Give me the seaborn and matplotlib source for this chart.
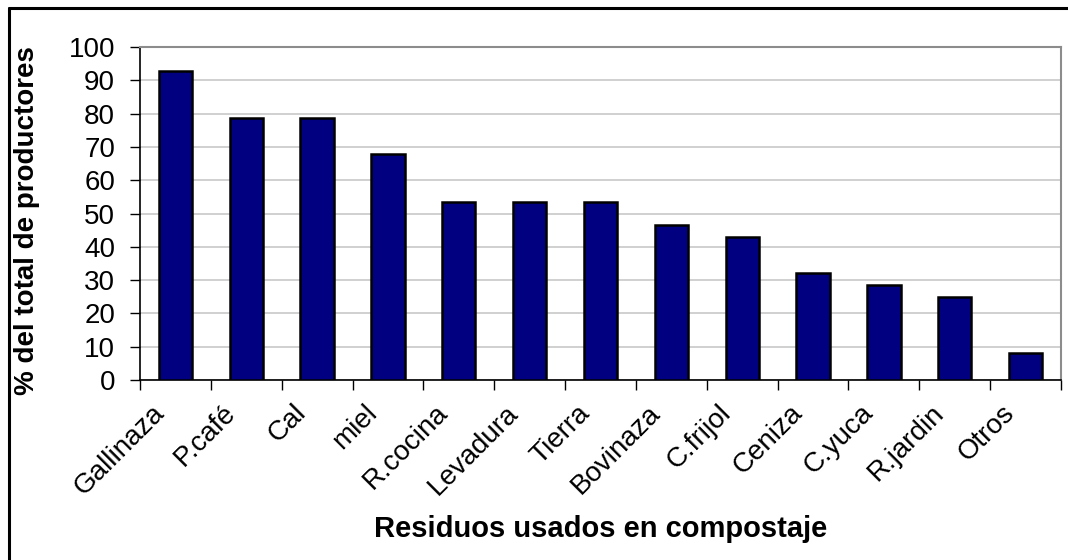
import matplotlib
matplotlib.use("Agg")
import matplotlib.pyplot as plt
import matplotlib.transforms as mtransforms
from matplotlib.lines import Line2D
import seaborn as sns
import pandas as pd
import numpy as np

# Residue types and share of producers using each (%)
residuos = ["Gallinaza", "P.café", "Cal", "miel", "R.cocina", "Levadura", "Tierra",
            "Bovinaza", "C.frijol", "Ceniza", "C.yuca", "R.jardin", "Otros"]
porcentaje = [92.9, 78.6, 78.6, 67.9, 53.6, 53.6, 53.6, 46.4, 42.9, 32.1, 28.6, 25.0, 8.0]
y_ticks = [0, 10, 20, 30, 40, 50, 60, 70, 80, 90, 100]

sns.set_theme(style="white")
plt.rcParams["font.family"] = ["Liberation Sans", "DejaVu Sans"]
plt.rcParams.update({"text.color": "black", "axes.labelcolor": "black",
                     "xtick.color": "black", "ytick.color": "black"})

df = pd.DataFrame({"residuo": residuos, "pct": porcentaje})

fig = plt.figure(figsize=(10.68, 5.60), dpi=100)
ax = fig.add_axes([140 / 1068, 1 - 380 / 560, (1061 - 140) / 1068, (380 - 47) / 560])

sns.barplot(data=df, x="residuo", y="pct", color="#000080", saturation=1,
            edgecolor="black", linewidth=1.8, width=0.47, ax=ax, zorder=3)

ax.set_ylim(0, 100)
ax.set_xlim(-0.5, len(residuos) - 0.5)
ax.set_yticks(y_ticks)
ax.set_yticklabels([str(t) for t in y_ticks], fontsize=20)
ax.yaxis.grid(True, color="#c8c8c8", linewidth=1.2, zorder=0)
ax.set_axisbelow(True)

# category boundaries carry the tick marks, labels sit at the centres
ax.set_xticks(np.arange(-0.5, len(residuos), 1.0))
ax.set_xticklabels([])
ax.set_xticks(np.arange(len(residuos)), minor=True)
ax.set_xticklabels(residuos, minor=True, rotation=45, ha="right",
                   rotation_mode="anchor", fontsize=20)
ax.tick_params(axis="x", which="major", direction="out", length=7, width=1, color="black", bottom=True)
ax.tick_params(axis="x", which="minor", length=0, pad=10)
ax.tick_params(axis="y", direction="out", length=7, width=1, color="black", left=True, pad=11)

# nudge the slanted category names so they end just left of each bar
shift = mtransforms.ScaledTranslation(-0.24, -0.06, fig.dpi_scale_trans)
for lbl in ax.get_xticklabels(minor=True):
    lbl.set_transform(lbl.get_transform() + shift)

for side in ["top", "right"]:
    ax.spines[side].set_color("#8c8c8c")
    ax.spines[side].set_linewidth(1.5)
for side in ["left", "bottom"]:
    ax.spines[side].set_color("black")
    ax.spines[side].set_linewidth(1.2)

ax.set_xlabel("Residuos usados en compostaje", fontsize=21, fontweight="bold")
ax.xaxis.set_label_coords(0.5, (380 - 515) / 333)
ax.set_ylabel("% del total de productores", fontsize=20, fontweight="bold", va="center")
ax.yaxis.set_label_coords((27 - 140) / 921, (380 - 221) / 333)

# chart frame
fig.add_artist(Line2D([9 / 1068, 9 / 1068], [0, 1 - 8 / 560], transform=fig.transFigure,
                      color="black", linewidth=2.2))
fig.add_artist(Line2D([9 / 1068, 1], [1 - 8 / 560, 1 - 8 / 560], transform=fig.transFigure,
                      color="black", linewidth=2.2))

fig.savefig("out.png", dpi=100, facecolor="white")
